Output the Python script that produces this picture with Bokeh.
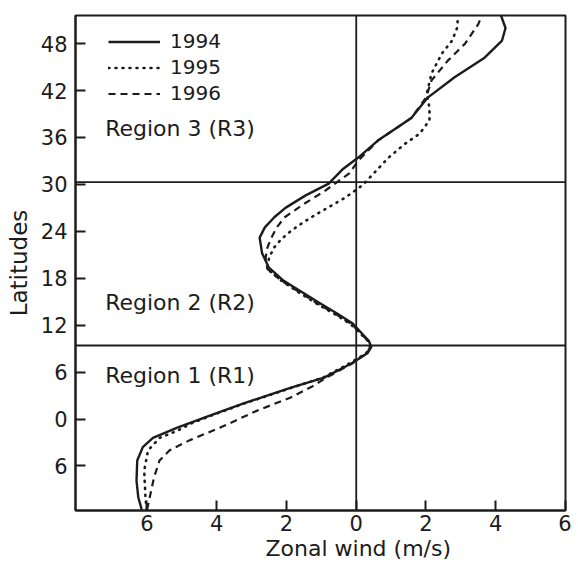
from bokeh.plotting import figure
from bokeh.models import Span, Label, Legend, LegendItem, FixedTicker, Title
from bokeh.embed import file_html
from bokeh.resources import INLINE

# ---- data (latitude, zonal wind m/s; negative = easterly) ----
lat_1994 = [-11.6, -10.0, -7.9, -5.3, -3.6, -2.4, -1.1, 0.45, 2.0, 4.0, 5.3, 7.1, 8.4, 9.2, 10.0,
            11.0, 12.2, 13.5, 14.8, 16.2, 17.7, 19.4, 21.2, 23.2, 24.5, 25.8, 27.0, 28.6, 30.1,
            31.9, 33.4, 35.6, 38.5, 41.1, 43.7, 46.2, 48.4, 50.0, 51.6]
wind_1994 = [-6.15, -6.25, -6.3, -6.28, -6.12, -5.83, -5.13, -4.18, -3.23, -1.87, -0.92, -0.14, 0.32,
             0.43, 0.36, 0.15, -0.1, -0.55, -1.04, -1.55, -2.09, -2.51, -2.70, -2.77, -2.62, -2.35,
             -2.03, -1.45, -0.79, -0.4, 0.05, 0.62, 1.58, 2.05, 2.82, 3.68, 4.18, 4.28, 4.15]

lat_1995 = [-11.6, -10.4, -6.6, -4.0, -2.4, -1.5, -0.5, 0.45, 2.0, 4.0, 5.3, 7.1, 8.4, 9.2, 10.0,
            11.0, 12.2, 13.5, 14.8, 16.2, 17.7, 19.2, 20.6, 21.9, 23.0, 24.1, 25.2, 26.3, 28.3,
            29.9, 31.4, 33.4, 35.2, 36.5, 38.2, 39.8, 41.6, 44.2, 46.7, 48.4, 50.0, 51.6]
wind_1995 = [-6.0, -6.04, -6.08, -5.97, -5.63, -5.13, -4.7, -4.15, -3.2, -1.85, -0.95, -0.2, 0.28,
             0.4, 0.33, 0.1, -0.18, -0.65, -1.15, -1.65, -2.15, -2.55, -2.5, -2.36, -2.15, -1.86,
             -1.5, -1.10, -0.32, 0.18, 0.5, 0.92, 1.4, 1.82, 2.1, 2.1, 2.02, 2.16, 2.45, 2.75,
             2.89, 2.92]

lat_1996 = [-11.6, -10.8, -7.5, -5.3, -4.0, -2.7, -1.1, 1.1, 2.75, 4.2, 5.3, 7.1, 8.4, 9.2, 10.0,
            11.0, 12.2, 13.5, 14.8, 16.2, 17.7, 19.2, 20.6, 21.9, 23.2, 24.5, 25.8, 27.5, 29.2,
            30.3, 31.4, 33.0, 35.6, 38.5, 41.1, 43.3, 45.8, 48.0, 50.5, 51.6]
wind_1996 = [-6.0, -5.96, -5.80, -5.64, -5.35, -4.77, -3.90, -2.83, -1.88, -1.25, -0.85, -0.12, 0.3,
             0.4, 0.34, 0.12, -0.15, -0.62, -1.12, -1.62, -2.15, -2.55, -2.6, -2.55, -2.43, -2.28,
             -2.05, -1.5, -0.89, -0.55, -0.2, 0.05, 0.62, 1.58, 2.0, 2.16, 2.62, 3.12, 3.5, 3.6]

x_ticks = [-6, -4, -2, 0, 2, 4, 6]
y_ticks = [-6, 0, 6, 12, 18, 24, 30, 36, 42, 48]
region_bounds = [30.3, 9.4]
region_names = ["Region 3 (R3)", "Region 2 (R2)", "Region 1 (R1)"]
region_lat = [37.1, 14.9, 5.6]

FONT = "DejaVu Sans"
INK = "#1c1c1c"

p = figure(width=571, height=564, x_range=(-8.05, 6.0), y_range=(-11.7, 51.6),
           output_backend="svg", toolbar_location=None,
           min_border_left=75, min_border_right=6, min_border_top=15, min_border_bottom=54)
p.background_fill_color = "white"
p.border_fill_color = "white"
p.xgrid.visible = False
p.ygrid.visible = False
p.outline_line_color = INK
p.outline_line_width = 2

r1 = p.line(wind_1994, lat_1994, line_color=INK, line_width=2.4, line_join="round")
r2 = p.line(wind_1995, lat_1995, line_color=INK, line_width=2.6, line_dash="1 6", line_cap="round")
r3 = p.line(wind_1996, lat_1996, line_color=INK, line_width=2.2, line_dash="7 5")

p.add_layout(Span(location=0, dimension="height", line_color=INK, line_width=1.8))
for b in region_bounds:
    p.add_layout(Span(location=b, dimension="width", line_color=INK, line_width=1.8))

for name, la in zip(region_names, region_lat):
    p.add_layout(Label(x=-7.2, y=la, text=name, text_font=FONT, text_font_size="22px",
                       text_color=INK, text_baseline="middle"))

legend = Legend(items=[LegendItem(label="1994", renderers=[r1]),
                       LegendItem(label="1995", renderers=[r2]),
                       LegendItem(label="1996", renderers=[r3])],
                location=(33, 405), padding=0, margin=0, spacing=2,
                glyph_width=52, glyph_height=23, label_height=23, label_standoff=10,
                label_text_font=FONT, label_text_font_size="20px", label_text_color=INK,
                background_fill_alpha=0, border_line_alpha=0)
p.add_layout(legend)

for ax in (p.xaxis[0], p.yaxis[0]):
    ax.axis_line_color = INK
    ax.axis_line_width = 2
    ax.major_tick_line_color = INK
    ax.major_tick_line_width = 2
    ax.major_tick_in = 10
    ax.major_tick_out = 0
    ax.minor_tick_line_color = None
    ax.major_label_text_font = FONT
    ax.major_label_text_font_size = "21px"
    ax.major_label_text_color = INK
    ax.axis_label_text_font = FONT
    ax.axis_label_text_font_style = "normal"
    ax.axis_label_text_color = INK

p.xaxis.ticker = FixedTicker(ticks=x_ticks)
p.xaxis.major_label_overrides = {t: str(abs(t)) for t in x_ticks}
p.xaxis.major_label_standoff = 4

# x-axis title, placed under the zero line as in the original figure
p.add_layout(Title(text="Zonal wind (m/s)", align="left", offset=190, standoff=0,
                   text_font=FONT, text_font_size="22px", text_font_style="normal",
                   text_color=INK), "below")

p.yaxis.ticker = FixedTicker(ticks=y_ticks)
p.yaxis.major_label_overrides = {t: str(abs(t)) for t in y_ticks}
p.yaxis.axis_label = "Latitudes"
p.yaxis.axis_label_text_font_size = "23px"
p.yaxis.major_label_standoff = 8
p.yaxis.axis_label_standoff = 6

open("out.html", "w").write(file_html(p, INLINE))
